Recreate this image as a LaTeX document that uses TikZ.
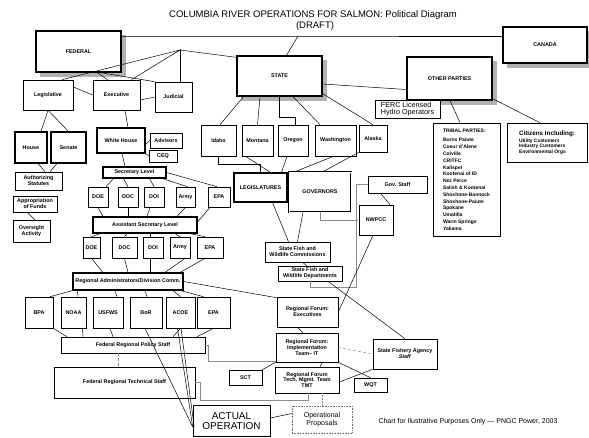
\documentclass[tikz,border=0pt]{standalone}
\usepackage{fontspec}
\setmainfont{Liberation Sans}

\tikzset{
  wh/.style 2 args={minimum width=#1pt, minimum height=#2pt},
  box/.style={draw, line width=0.6pt, fill=white, align=center, inner sep=0pt,
    font=\fontsize{5.4}{5.9}\selectfont\bfseries},
  thickbox/.style={box, line width=1.1pt},
  dblbox/.style={box, double, double distance=0.9pt, line width=0.6pt},
  bigbox/.style={box, line width=1.3pt},
  shadowfill/.style={fill=black!30},
  plainfont/.style={font=\fontsize{#1}{#1}\selectfont},
  conn/.style={line width=0.5pt},
  grayconn/.style={line width=0.5pt, black!45},
}

\begin{document}
\begin{tikzpicture}[x=1pt,y=-1pt]
  \useasboundingbox (0,0) rectangle (589,437);

  % title
  \node[font=\fontsize{9.5}{11}\selectfont] (title) at (313,15)
    {COLUMBIA RIVER OPERATIONS FOR SALMON: Political Diagram};
  \node[font=\fontsize{9.5}{11}\selectfont] (draft) at (315,26) {(DRAFT)};

  % shadows of the top level boxes
  \fill[shadowfill] (40,35) rectangle (125.5,76.5);
  \fill[shadowfill] (507,31) rectangle (589,67.5);
  \fill[shadowfill] (241,60) rectangle (326.5,100.5);
  \fill[shadowfill] (411,61) rectangle (496.5,104.5);

  % top level
  \node[bigbox, wh={85}{41}] (fed) at (78.5,51.5) {FEDERAL};
  \node[bigbox, wh={84}{36}] (canada) at (545,45) {CANADA};
  \node[bigbox, wh={85}{40}] (state) at (279.5,76) {STATE};
  \node[bigbox, wh={85}{43}] (other) at (449.5,78.5) {OTHER PARTIES};
  \coordinate (topj) at (298,36);
  \coordinate (jn) at (180,50);

  % federal branches
  \node[box, wh={50}{30}] (legis) at (48,95) {Legislative};
  \node[box, wh={47}{30}] (exec) at (116.5,95) {Executive};
  \node[box, wh={37}{30}] (judic) at (173.5,97) {Judicial};
  \node[thickbox, wh={32}{31}] (house) at (31,147.5) {House};
  \node[thickbox, wh={35}{31}] (senate) at (68.5,147.5) {Senate};
  \node[box, wh={47}{18}] (auth) at (38.5,181) {Authorizing\\Statutes};
  \node[box, wh={44}{16}] (approp) at (35,204) {Appropriation\\of Funds};
  \node[box, wh={37}{22}] (oversight) at (31.5,231) {Oversight\\Activity};
  \node[thickbox, wh={48}{25}] (whouse) at (121,140.5) {White House};
  \node[box, wh={32}{15}] (advisors) at (166,140.5) {Advisors};
  \node[box, wh={28}{12}] (ceq) at (163,156) {CEQ};
  \node[thickbox, wh={63}{11}] (seclev) at (134.5,172.5) {Secretary Level};

  % secretaries
  \node[box, wh={20}{20}] (doeA) at (98,197) {DOE};
  \node[box, wh={20}{20}] (docA) at (128,197) {DOC};
  \node[box, wh={20}{20}] (doiA) at (154,197) {DOI};
  \node[box, wh={19}{20}] (armyA) at (185.5,197) {Army};
  \node[box, wh={22}{20}] (epaA) at (219,197) {EPA};
  \node[thickbox, wh={104}{16}] (asstlev) at (145,225) {Assistant Secretary Level};
  \node[box, wh={17}{21}] (doeB) at (91.5,247.5) {DOE};
  \node[box, wh={25}{21}] (docB) at (124.5,247.5) {DOC};
  \node[box, wh={20}{21}] (doiB) at (153,247.5) {DOI};
  \node[box, wh={20}{21}] (armyB) at (180,247.5) {Army};
  \node[box, wh={26}{21}] (epaB) at (210,247.5) {EPA};
  \node[thickbox, wh={110}{17}] (regadm) at (128,281.5) {Regional Administrators/Division Comm.};

  % regional agencies
  \node[box, wh={28}{31}] (bpa) at (39,312.5) {BPA};
  \node[box, wh={25}{31}] (noaa) at (73.5,312.5) {NOAA};
  \node[box, wh={30}{31}] (usfws) at (108,312.5) {USFWS};
  \node[box, wh={32}{31}] (bor) at (146,312.5) {BoR};
  \node[box, wh={29}{31}] (acoe) at (180.5,312.5) {ACOE};
  \node[box, wh={33}{31}] (epaC) at (213.5,312.5) {EPA};
  \node[box, wh={144}{16}] (frps) at (133,345) {Federal Regional Policy Staff};
  \node[box, wh={141}{31}] (frts) at (124.5,382.5) {Federal Regional Technical Staff};

  % states
  \node[box, wh={35}{31}] (idaho) at (218.5,140.5) {Idaho};
  \node[box, wh={31}{31}] (montana) at (257.5,140.5) {Montana};
  \node[box, wh={30}{31}] (oregon) at (293,140.5) {Oregon};
  \node[box, wh={41}{31}] (wash) at (335.5,140.5) {Washington};
  \node[box, wh={28}{27}] (alaska) at (373,138.5) {Alaska};
  \node[thickbox, wh={53}{29}] (legs) at (260.5,187.5) {LEGISLATURES};
  \node[dblbox, wh={62}{40}] (govs) at (320,192) {GOVERNORS};
  \node[box, wh={59}{17}] (govstaff) at (397.5,184.5) {Gov. Staff};
  \node[box, wh={34}{30}] (nwpcc) at (376,220) {NWPCC};
  \node[box, wh={65}{20}] (sfwc) at (297.5,252) {State Fish and\\Wildlife Commissions};
  \node[box, wh={64}{15}] (sfwd) at (310,273.5) {State Fish and\\Wildlife Departments};
  \coordinate (gj) at (357,220);

  % regional forum
  \node[box, wh={61}{30}] (rfe) at (307.5,312) {Regional Forum:\\Executives};
  \node[box, wh={62}{29}] (rfit) at (307,347.5) {Regional Forum:\\Implementation\\Team-- IT};
  \node[box, wh={64}{26}] (tmt) at (307,380) {Regional Forum\\Tech. Mgmt. Team\\TMT};
  \node[box, wh={33}{15}] (sct) at (245.5,377.5) {SCT};
  \node[box, wh={64}{30}] (sfas) at (405,354) {State Fishery Agency\\\textit{Staff}};
  \node[box, wh={33}{14}] (wqt) at (370.5,385) {WQT};
  \node[box, wh={77}{31}, plainfont=10] (actual) at (231.5,421) {ACTUAL\\OPERATION};
  \node[box, wh={60}{27}, plainfont=7, densely dotted, draw=black!55] (opprop) at (322,419.5)
    {Operational\\[1pt]Proposals};

  % other parties
  \node[box, wh={65}{18}, align=left, font=\fontsize{7.2}{7.6}\selectfont] (ferc) at (407.5,109)
    {FERC Licensed\\Hydro Operators};
  \node[box, wh={67}{113}, align=left, font=\fontsize{5}{6.8}\selectfont\bfseries] (tribal) at (466.5,179.5)
    {TRIBAL PARTIES:\\[3pt]
     Burns Paiute\\Coeur d'Alene\\Colville\\CRITFC\\Kalispel\\Kootenai of ID\\Nez Perce\\
     Salish \& Kootenai\\Shoshone-Bannock\\Shoshone-Paiute\\Spokane\\Umatilla\\Warm Springs\\Yakama};
  \node[box, wh={80}{39}, align=left, font=\fontsize{4.9}{5.5}\selectfont\bfseries] (citizens) at (547,142.5)
    {{\fontsize{6.3}{7}\selectfont Citizens Including:}\\[1pt]
     Utility Customers\\Industry Customers\\Environmental Orgs};

  \node[font=\fontsize{7}{8}\selectfont] (note) at (468,422)
    {Chart for Ilustrative Purposes Only --- PNGC Power, 2003};

  % connectors, top
  \draw[conn] (fed.east |- topj) -- (topj) -- (canada.west |- topj);
  \draw[conn] (topj) -- ([xshift=7pt]state.north);
  \draw[conn] ([xshift=14pt]legis.north) -- (jn) -- ([xshift=15pt]exec.north);
  \draw[conn] (jn) -- (judic.north -| jn);
  \draw[conn] (jn) -- ([yshift=-2pt]state.north west);
  \draw[conn] ([xshift=19pt]fed.south) -- ([xshift=-9pt]exec.north);
  \draw[conn] ([xshift=22pt]fed.south) -- (judic.north west);
  \draw[conn] ([yshift=-8pt]state.east) -- ([yshift=-11pt]other.west);
  \draw[conn] ([yshift=8pt]legis.east) -- (exec.west);
  \draw[conn] ([yshift=-5pt]exec.east) -- (judic.west);

  % legislative
  \draw[conn] (legis.south) -- ([xshift=10pt]house.north);
  \draw[conn] (legis.south) -- (senate.north);
  \draw[conn] ([xshift=7pt]house.south) -- ([xshift=6.5pt]auth.north);
  \draw[conn] ([xshift=-11.5pt]senate.south) -- ([xshift=11.5pt]auth.north);
  \draw[conn] ([xshift=-8pt]approp.south) -- ([xshift=3.5pt]oversight.north);

  % executive
  \draw[conn] ([xshift=8.5pt]exec.south) -- ([xshift=7pt]whouse.north);
  \draw[conn] ([yshift=-4pt]whouse.east) -- (advisors.west);
  \draw[conn] (whouse.south east) -- (ceq.west);
  \draw[conn] ([xshift=1pt]whouse.south) -- ([xshift=-9.5pt]seclev.north);
  \draw[conn] ([xshift=-21pt]seclev.south) -- ([xshift=8pt]doeA.north);
  \draw[conn] ([xshift=-11pt]seclev.south) -- (docA.north);
  \draw[conn] ([xshift=15pt]seclev.south) -- (doiA.north);
  \draw[conn] ([xshift=28pt]seclev.south) -- ([xshift=2pt]armyA.north);
  \draw[conn] (seclev.east) -- ([xshift=-2pt]epaA.north);
  \draw[conn] (doeA.south) -- ([xshift=-42pt]asstlev.north);
  \draw[conn] (docA.south) -- ([xshift=-17pt]asstlev.north);
  \draw[conn] ([xshift=-4pt]doiA.south) -- ([xshift=2pt]asstlev.north);
  \draw[conn] (armyA.south) -- ([xshift=32pt]asstlev.north);
  \draw[conn] ([xshift=-9pt]epaA.south) -- ([yshift=3pt]asstlev.east);
  \draw[conn] ([xshift=-45pt]asstlev.south) -- (doeB.north);
  \draw[conn] ([xshift=-18pt]asstlev.south) -- (docB.north);
  \draw[conn] ([xshift=5pt]asstlev.south) -- ([xshift=-3pt]doiB.north);
  \draw[conn] ([xshift=30pt]asstlev.south) -- (armyB.north);
  \draw[conn] ([xshift=45pt]asstlev.south) -- ([xshift=-5pt]epaB.north);
  \draw[conn] (doeB.south) -- ([xshift=-25pt]regadm.north);
  \draw[conn] (docB.south) -- (regadm.north);
  \draw[conn] ([xshift=-3pt]doiB.south) -- ([xshift=22pt]regadm.north);
  \draw[conn] ([xshift=5pt]armyB.south) -- ([xshift=37pt]regadm.north);
  \draw[conn] ([xshift=-5pt]epaB.south) -- ([xshift=52pt]regadm.north);
  \draw[conn] (regadm.east) -- ([yshift=-1pt]rfe.north west);

  % regional agencies
  \draw[conn] (regadm.south west) -- ([xshift=11pt]bpa.north);
  \draw[conn] ([xshift=5pt]regadm.south west) -- ([xshift=4.5pt]noaa.north);
  \draw[conn] ([xshift=-13pt]regadm.south) -- ([xshift=9pt]usfws.north);
  \draw[conn] ([xshift=17pt]regadm.south) -- ([xshift=1pt]bor.north);
  \draw[conn] ([xshift=45pt]regadm.south) -- (acoe.north);
  \draw[conn] ([xshift=-3pt]regadm.south east) -- ([xshift=-10pt]epaC.north);
  \draw[conn] (bpa.south east) -- ([xshift=-66pt]frps.north);
  \draw[conn] ([xshift=9pt]noaa.south) -- ([xshift=-50pt]frps.north);
  \draw[conn] ([xshift=2pt]usfws.south) -- ([xshift=-20pt]frps.north);
  \draw[conn] (acoe.south) -- ([xshift=40pt]frps.north);
  \draw[conn] (epaC.south) -- ([xshift=64pt]frps.north);
  \draw[conn] ([xshift=-1pt]bor.south) -- ([yshift=-6pt]actual.west);
  \draw[conn] ([xshift=-3pt]acoe.south) -- ([yshift=-6pt]actual.west);
  \draw[conn] ([xshift=0.5pt]acoe.south) -- ([xshift=1.5pt,yshift=-6pt]actual.west);
  \draw[grayconn, densely dashed] ([xshift=-15pt]frps.south) -- ([xshift=-6.5pt]frts.north);
  \draw[grayconn] (frps.east) -- ++(3,0) |- ([yshift=1pt]rfit.south west);
  \draw[grayconn] (frts.east) -- ++(5,0) |- ([xshift=1pt,yshift=-7pt]tmt.south)
    -- ([xshift=1pt]tmt.south);

  % states
  \draw[conn] ([xshift=-36pt]state.south) -- ([xshift=1.5pt]idaho.north);
  \draw[conn] ([xshift=-19.5pt]state.south) -- (montana.north);
  \draw[conn] (state.south) -- ++(0,21) -| ([xshift=2pt]oregon.north);
  \draw[conn] ([xshift=13.5pt]state.south) -- ([xshift=-15.5pt]wash.north);
  \draw[conn] ([yshift=3pt]state.south east) -- (alaska.north);
  \draw[conn] (idaho.south) -- ++(0,8) -| (legs.north);
  \draw[conn] ([xshift=-12pt]montana.south) -- ([xshift=10pt]legs.north);
  \draw[conn] ([xshift=-6pt]oregon.south) -- ([xshift=21pt]legs.north);
  \draw[conn] ([xshift=-2pt]wash.south) -- ([xshift=-25pt]govs.north);
  \draw[conn] (alaska.south west) -- ([xshift=3pt]govs.north);
  \draw[conn] ([xshift=12pt]legs.south) -- ([xshift=-9pt]sfwc.north);
  \draw[conn] ([xshift=-17pt]govs.south) -- (sfwc.north);
  \draw[conn] ([xshift=5pt]sfwc.south) -- ([xshift=-3pt]sfwd.north);
  \draw[grayconn] (govstaff.west) -- ++(-11,0) |- ([yshift=-6pt]sfwd.south) -- (sfwd.south);
  \draw[grayconn] (govs.south) |- (gj);
  \fill[black!45] (gj) circle (0.8);
  \draw[conn] ([xshift=-17pt]govstaff.south) -- ([xshift=14pt]nwpcc.north);
  \draw[conn] ([xshift=-3pt]nwpcc.south) -- (rfe.east);
  \draw[conn] ([xshift=18pt]sfwd.south) -- (sfas.north);

  % regional forum
  \draw[conn] ([xshift=-10pt]rfe.south) -- ([xshift=-4pt]rfit.north);
  \draw[conn] ([xshift=15pt]rfit.south) -- ([xshift=13pt]tmt.north);
  \draw[conn] (sct.north east) -- (rfit.south west);
  \draw[conn] (rfit.south east) -- (wqt.north);
  \draw[conn] ([yshift=-2pt]tmt.east) -- (sfas.south west);
  \draw[grayconn, densely dashed] (rfit.east) -- (sfas.west);
  \draw[grayconn, densely dotted] (opprop.north) -- (opprop.north |- tmt.south);
  \draw[conn] ([yshift=3pt]actual.east) -- ([yshift=6pt]opprop.west);

  % other parties
  \draw[conn] ([xshift=0.5pt]other.south) -- ([xshift=-6.5pt]tribal.north);
  \draw[conn] ([yshift=2pt]other.south east) -- ([xshift=-7pt]citizens.north);
\end{tikzpicture}
\end{document}
